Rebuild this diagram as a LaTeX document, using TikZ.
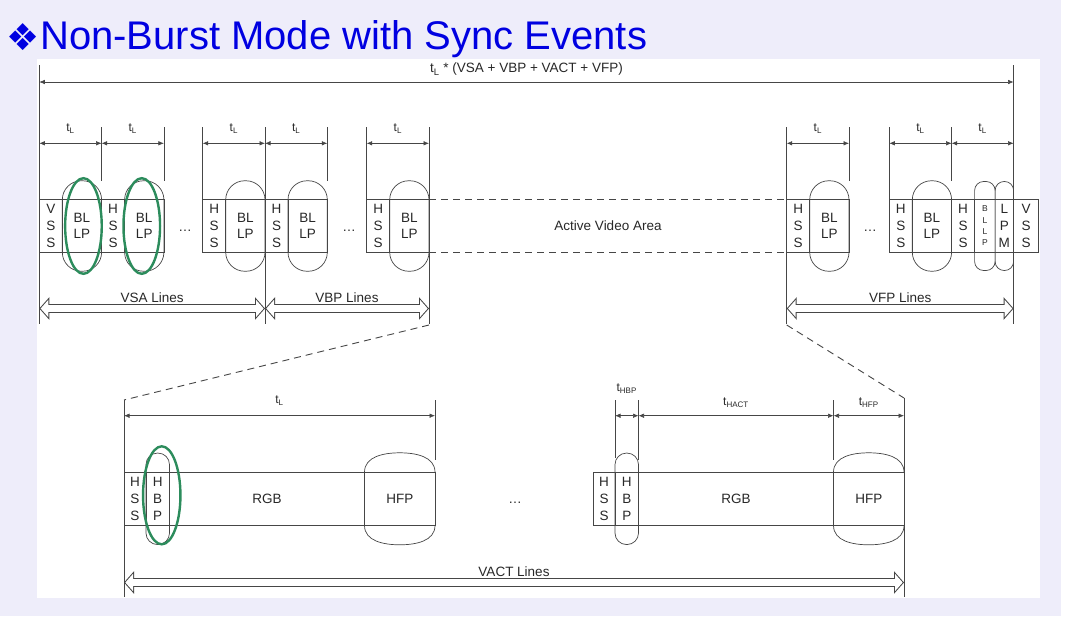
\documentclass[tikz,border=0pt]{standalone}
\usepackage{fontspec}
\setmainfont{Liberation Sans}
\newfontfamily\symfont{DejaVu Sans}
\usetikzlibrary{
arrows.meta,
calc,
positioning
}
\definecolor{slide}{RGB}{238,237,250}
\definecolor{title blue}{RGB}{0,0,225}
\definecolor{ring green}{RGB}{44,140,92}
\definecolor{ink}{RGB}{40,40,40}
\definecolor{rule}{RGB}{70,70,70}
\newcommand{\lbl}{\fontsize{13.5}{16.7}\selectfont}
\newcommand{\dimfont}{\fontsize{12}{14}\selectfont}
\newcommand{\tinyfont}{\fontsize{8.5}{11.3}\selectfont}
\newcommand{\tsub}[1]{t\textsubscript{#1}}

\begin{document}
\begin{tikzpicture}[
        x=1pt, y=-1pt,
        every node/.style={
          text=ink,
        },
        field/.style={
          draw=rule, line width=0.7pt,
          inner sep=0pt, outer sep=0pt,
          minimum width=23pt, minimum height=53.4pt,
          align=center, font=\lbl,
        },
        capsule/.style={
          field,
          minimum width=39.3pt, minimum height=90.5pt,
          rounded corners=19pt,
        },
        thin capsule/.style={
          field,
          minimum width=20.5pt, minimum height=89pt,
          rounded corners=9pt,
        },
        dim/.style={
          draw=rule, line width=0.6pt,
          {Latex[length=5.5pt,width=4.5pt]}-{Latex[length=5.5pt,width=4.5pt]},
        },
        dim label/.style={
          midway, above=10pt, inner sep=0pt, font=\dimfont,
        },
        tick/.style={
          draw=rule, line width=0.6pt,
        },
        lines arrow/.style={
          draw=rule, line width=9pt,
          {Triangle[length=10pt,width=22pt]}-{Triangle[length=10pt,width=22pt]},
          postaction={
            draw=white, line width=7pt,
            shorten <=1.35pt, shorten >=1.35pt,
            {Triangle[length=7.65pt,width=16.8pt]}-{Triangle[length=7.65pt,width=16.8pt]},
          },
        },
        lines label/.style={
          midway, above=1pt, inner sep=0pt, font=\lbl,
        },
        gap/.style={
          draw=rule, line width=0.9pt, dash pattern=on 7pt off 5pt,
        },
        ring/.style={
          draw=ring green, line width=2.4pt,
        },
        ]
        \useasboundingbox (0,0) rectangle (1070,616);
        \fill[white] (0,0) rectangle (1070,616);
        \fill[slide] (0,0) rectangle (1061,616);
        \fill[white] (37,59) rectangle (1040,598);

        % title
        \node [anchor=base west, inner sep=0pt, text=title blue,
          font=\fontsize{40}{48}\selectfont] (title) at (40,49)
        {Non-Burst Mode with Sync Events};
        \node [anchor=base east, inner sep=0pt, text=title blue,
          font=\symfont\fontsize{37}{40}\selectfont] (title-mark) at ([xshift=0pt,yshift=-1pt]title.base west)
        {❖};

        % vertical lines, upper row
        \node [field, anchor=west] (vss-a) at (39.3,226) {V\\S\\S};
        \node [capsule, right=0pt of vss-a] (bllp-a) {BL\\LP};
        \node [field, right=0pt of bllp-a] (hss-b) {H\\S\\S};
        \node [capsule, right=0pt of hss-b] (bllp-b) {BL\\LP};
        \node [font=\lbl] (dots-a) at (185,231) {\dots};
        \node [field, anchor=west] (hss-c) at (202.7,226) {H\\S\\S};
        \node [capsule, right=0pt of hss-c] (bllp-c) {BL\\LP};
        \node [field, right=0pt of bllp-c] (hss-d) {H\\S\\S};
        \node [capsule, right=0pt of hss-d] (bllp-d) {BL\\LP};
        \node [font=\lbl] (dots-b) at (349,231) {\dots};
        \node [field, anchor=west] (hss-e) at (366.7,226) {H\\S\\S};
        \node [capsule, right=0pt of hss-e] (bllp-e) {BL\\LP};

        \node [field, anchor=west] (hss-f) at (786.7,226) {H\\S\\S};
        \node [capsule, right=0pt of hss-f] (bllp-f) {BL\\LP};
        \node [font=\lbl] (dots-c) at (870,231) {\dots};
        \node [field, anchor=west] (hss-g) at (889.3,226) {H\\S\\S};
        \node [capsule, right=0pt of hss-g] (bllp-g) {BL\\LP};
        \node [field, right=0pt of bllp-g] (hss-h) {H\\S\\S};
        \node [thin capsule, right=0pt of hss-h, font=\tinyfont] (bllp-h) {B\\L\\L\\P};
        \node [thin capsule, right=0pt of bllp-h, minimum width=18.5pt] (lpm-h) {L\\P\\M};
        \node [field, right=0pt of lpm-h, minimum width=25pt] (vss-h) {V\\S\\S};

        \draw [rule, line width=0.7pt] (vss-a.north west) rectangle (bllp-b.east |- vss-a.south);
        \draw [rule, line width=0.7pt] (hss-c.north west) rectangle (bllp-d.east |- hss-c.south);
        \draw [rule, line width=0.7pt] (hss-e.north west) rectangle (bllp-e.east |- hss-e.south);
        \draw [rule, line width=0.7pt] (hss-f.north west) rectangle (bllp-f.east |- hss-f.south);
        \draw [rule, line width=0.7pt] (hss-g.north west) rectangle (vss-h.south east);

        \draw [gap] (bllp-e.east |- hss-e.north) -- (hss-f.north west);
        \draw [gap] (bllp-e.east |- hss-e.south) -- (hss-f.south west);
        \node [font=\lbl] (active-area) at (608,226) {Active Video Area};

        % ticks
        \draw [tick] (vss-a.west |- 0,65) -- (vss-a.west |- 0,324);
        \draw [tick] (lpm-h.east |- 0,65) -- (lpm-h.east |- 0,324);
        \draw [tick] (bllp-a.east |- 0,127) -- (bllp-a.north east);
        \draw [tick] (bllp-b.east |- 0,127) -- (bllp-b.north east);
        \draw [tick] (hss-c.west |- 0,127) -- (hss-c.north west);
        \draw [tick] (bllp-c.east |- 0,127) -- (bllp-c.east |- 0,324);
        \draw [tick] (bllp-d.east |- 0,127) -- (bllp-d.north east);
        \draw [tick] (hss-e.west |- 0,127) -- (hss-e.north west);
        \draw [tick] (bllp-e.east |- 0,127) -- (bllp-e.east |- 0,324);
        \draw [tick] (hss-f.west |- 0,127) -- (hss-f.west |- 0,324);
        \draw [tick] (bllp-f.east |- 0,127) -- (bllp-f.north east);
        \draw [tick] (hss-g.west |- 0,127) -- (hss-g.north west);
        \draw [tick] (bllp-g.east |- 0,127) -- (bllp-g.north east);

        % time spans
        \draw [dim] (vss-a.west |- 0,82) -- node [midway, above=6pt, inner sep=0pt, font=\lbl]
        {\tsub{L} * (VSA + VBP + VACT + VFP)} (lpm-h.east |- 0,82);
        \draw [dim] (vss-a.west |- 0,143.3) -- node [dim label] {\tsub{L}} (bllp-a.east |- 0,143.3);
        \draw [dim] (bllp-a.east |- 0,143.3) -- node [dim label] {\tsub{L}} (bllp-b.east |- 0,143.3);
        \draw [dim] (hss-c.west |- 0,143.3) -- node [dim label] {\tsub{L}} (bllp-c.east |- 0,143.3);
        \draw [dim] (bllp-c.east |- 0,143.3) -- node [dim label] {\tsub{L}} (bllp-d.east |- 0,143.3);
        \draw [dim] (hss-e.west |- 0,143.3) -- node [dim label] {\tsub{L}} (bllp-e.east |- 0,143.3);
        \draw [dim] (hss-f.west |- 0,143.3) -- node [dim label] {\tsub{L}} (bllp-f.east |- 0,143.3);
        \draw [dim] (hss-g.west |- 0,143.3) -- node [dim label] {\tsub{L}} (bllp-g.east |- 0,143.3);
        \draw [dim] (bllp-g.east |- 0,143.3) -- node [dim label] {\tsub{L}} (lpm-h.east |- 0,143.3);

        % line groups
        \draw [lines arrow] (vss-a.west |- 0,308.5) -- node [lines label] {VSA Lines} (bllp-c.east |- 0,308.5);
        \draw [lines arrow] (bllp-c.east |- 0,308.5) -- node [lines label] {VBP Lines} (bllp-e.east |- 0,308.5);
        \draw [lines arrow] (hss-f.west |- 0,308.5) -- node [lines label] {VFP Lines} (lpm-h.east |- 0,308.5);

        % lower row, one line zoomed
        \node [field, anchor=west, minimum width=22pt] (hss-1) at (124,498.8) {H\\S\\S};
        \node [capsule, right=0pt of hss-1, minimum width=23.5pt, minimum height=91.5pt,
          rounded corners=11.5pt] (hbp-1) {H\\B\\P};
        \node [field, right=0pt of hbp-1, minimum width=195pt] (rgb-1) {RGB};
        \node [field, right=0pt of rgb-1, minimum width=70.5pt] (hfp-1) {HFP};
        \node [font=\lbl] (dots-d) at (515,503) {\dots};
        \node [field, anchor=west, minimum width=22pt] (hss-2) at (593,498.8) {H\\S\\S};
        \node [capsule, right=0pt of hss-2, minimum width=23.5pt, minimum height=91.5pt,
          rounded corners=11.5pt] (hbp-2) {H\\B\\P};
        \node [field, right=0pt of hbp-2, minimum width=195pt] (rgb-2) {RGB};
        \node [field, right=0pt of rgb-2, minimum width=70.5pt] (hfp-2) {HFP};

        \draw [rule, line width=0.7pt] (hss-1.north west) rectangle (hfp-1.south east);
        \draw [rule, line width=0.7pt] (hss-2.north west) rectangle (hfp-2.south east);
        \draw [rule, line width=0.7pt] (hfp-1.north west) to [out=90, in=180] ([yshift=19.3pt]hfp-1.north)
        to [out=0, in=90] (hfp-1.north east);
        \draw [rule, line width=0.7pt] (hfp-1.south west) to [out=-90, in=180] ([yshift=-19.3pt]hfp-1.south)
        to [out=0, in=-90] (hfp-1.south east);
        \draw [rule, line width=0.7pt] (hfp-2.north west) to [out=90, in=180] ([yshift=19.3pt]hfp-2.north)
        to [out=0, in=90] (hfp-2.north east);
        \draw [rule, line width=0.7pt] (hfp-2.south west) to [out=-90, in=180] ([yshift=-19.3pt]hfp-2.south)
        to [out=0, in=-90] (hfp-2.south east);

        % zoom guides
        \coordinate (zoom-a) at (bllp-e.east |- 0,325);
        \coordinate (zoom-b) at (hss-1.west |- 0,400);
        \coordinate (zoom-c) at (hss-f.west |- 0,325);
        \coordinate (zoom-d) at (hfp-2.east |- 0,398);
        \draw [gap] (zoom-a) -- (zoom-b);
        \draw [gap] (zoom-c) -- (zoom-d);

        \draw [tick] (zoom-b) -- (hss-1.west |- 0,597);
        \draw [tick] (zoom-d) -- (hfp-2.east |- 0,597);
        \draw [tick] (hfp-1.east |- 0,400) -- (hfp-1.east |- 0,460);
        \draw [tick] (hbp-2.west |- 0,400) -- (hbp-2.west |- 0,458);
        \draw [tick] (hbp-2.east |- 0,400) -- (hbp-2.east |- 0,460);
        \draw [tick] (hfp-2.west |- 0,400) -- (hfp-2.west |- 0,460);

        \draw [dim] (hss-1.west |- 0,415.7) -- node [dim label] {\tsub{L}} (hfp-1.east |- 0,415.7);
        \draw [dim] (hbp-2.west |- 0,415.7) -- (hbp-2.east |- 0,415.7);
        \node [font=\dimfont] (t-hbp) at (hbp-2 |- 0,389) {\tsub{HBP}};
        \draw [dim] (hbp-2.east |- 0,415.7) -- node [dim label, above=8pt] {\tsub{HACT}} (hfp-2.west |- 0,415.7);
        \draw [dim] (hfp-2.west |- 0,415.7) -- node [dim label, above=8pt] {\tsub{HFP}} (hfp-2.east |- 0,415.7);

        \draw [lines arrow] (hss-1.west |- 0,582.5) -- node [lines label] {VACT Lines} (hfp-2.east |- 0,582.5);

        % highlighted blanking packets
        \draw [ring] ([xshift=1.5pt]bllp-a.center) ellipse [x radius=18.3, y radius=47.8];
        \draw [ring] ([xshift=-2.5pt]bllp-b.center) ellipse [x radius=18.3, y radius=47.8];
        \draw [ring] ([xshift=4pt,yshift=3.5pt]hbp-1.center) ellipse [x radius=18.7, y radius=49];
      \end{tikzpicture}
\end{document}
